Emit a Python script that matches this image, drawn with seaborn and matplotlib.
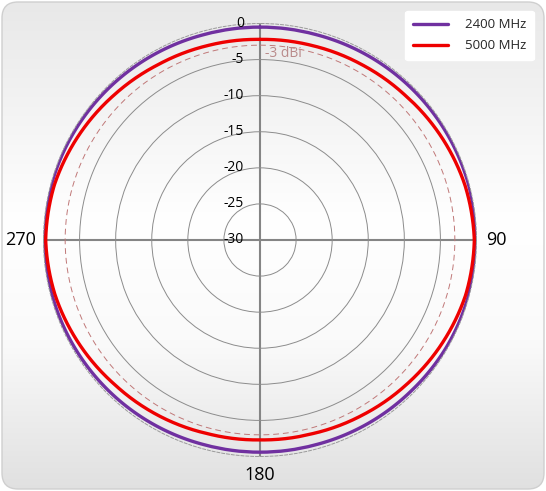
import numpy as np
import pandas as pd
import matplotlib
matplotlib.use("Agg")
import matplotlib.pyplot as plt
import matplotlib.transforms as mtransforms
from matplotlib.patches import FancyBboxPatch
import seaborn as sns

# measured gain (dBi) every 15 degrees, clockwise from 0
angles_deg = [0, 15, 30, 45, 60, 75, 90, 105, 120, 135, 150, 165,
              180, 195, 210, 225, 240, 255, 270, 285, 300, 315, 330, 345]
gain_2400 = [-0.5, -0.5, -0.4, -0.3, -0.2, -0.1, -0.1, -0.1, -0.2, -0.4, -0.5, -0.6,
             -0.6, -0.6, -0.5, -0.4, -0.3, -0.2, -0.1, -0.1, -0.2, -0.3, -0.4, -0.5]
gain_5000 = [-2.2, -2.1, -1.9, -1.6, -1.1, -0.6, -0.3, -0.5, -1.0, -1.5, -1.9, -2.2,
             -2.3, -2.2, -1.9, -1.6, -1.1, -0.6, -0.3, -0.5, -1.0, -1.5, -1.9, -2.1]
series_names = ["2400 MHz", "5000 MHz"]
series_colors = ["#7030a0", "#ee0000"]

ring_levels = [-25, -20, -15, -10, -5]
ring_labels = ["0", "-5", "-10", "-15", "-20", "-25", "-30"]
ring_label_values = [0, -5, -10, -15, -20, -25, -30]
ref_level = -3
axis_angles = [0, 90, 180, 270]

sns.set_theme(style="white")
plt.rcParams["font.family"] = ["Open Sans", "DejaVu Sans"]

fig = plt.figure(figsize=(5.46, 4.91), dpi=100)

# background panel with rounded corners and soft vertical gradient
bg = fig.add_axes([0, 0, 1, 1])
bg.set_xlim(0, 546)
bg.set_ylim(0, 491)
bg.axis("off")
shade = np.interp(np.linspace(0, 1, 256), [0, 0.3, 0.55, 1.0], [0.88, 0.98, 1.0, 0.91])
grad = np.dstack([shade, shade, shade]).reshape(256, 1, 3)
panel = FancyBboxPatch((2, 2), 542, 487, boxstyle="round,pad=0,rounding_size=16",
                       facecolor="none", edgecolor="#cfcfcf", lw=1.0)
bg.add_patch(panel)
im = bg.imshow(grad, extent=[2, 544, 2, 489], aspect="auto", origin="lower")
im.set_clip_path(panel)

cx, cy, R = 260, 240, 216.5
W, H = 546, 491
ax = fig.add_axes([(cx - R) / W, (H - cy - R) / H, 2 * R / W, 2 * R / H], projection="polar")
ax.set_facecolor("none")
ax.set_theta_zero_location("N")
ax.set_theta_direction(-1)
ax.set_rlim(-30, 0)

ax.set_xticks(np.radians(axis_angles))
ax.set_xticklabels([])
ax.xaxis.grid(True, color="#858585", lw=1.5)
ax.set_yticks(ring_levels)
ax.set_yticklabels([])
ax.yaxis.grid(True, color="#8c8c8c", lw=0.7)
ax.spines["polar"].set_color("#9a9a9a")
ax.spines["polar"].set_linestyle((0, (3, 2)))
ax.spines["polar"].set_linewidth(0.7)

theta_circle = np.linspace(0, 2 * np.pi, 361)
ax.plot(theta_circle, np.full_like(theta_circle, ref_level), color="#c07878",
        lw=0.7, ls=(0, (6, 4)))

theta = np.radians(angles_deg + [360])
for name, gains, col in zip(series_names, [gain_2400, gain_5000], series_colors):
    df = pd.DataFrame({"theta": theta, "gain": gains + gains[:1]})
    sns.lineplot(data=df, x="theta", y="gain", ax=ax, sort=False, estimator=None,
                 color=col, lw=2.4, label=name, legend=False)
    # follow the circle between measured points
    ax.lines[-1].get_path()._interpolation_steps = 60
ax.set_xlabel("")
ax.set_ylabel("")

# radial labels along the 0 degree line
left_off = mtransforms.offset_copy(ax.transData, fig=fig, x=-16, y=0, units="dots")
for v, lab in zip(ring_label_values, ring_labels):
    ax.text(0, v, lab, transform=left_off, ha="right", va="center", fontsize=10, color="black")
ref_off = mtransforms.offset_copy(ax.transData, fig=fig, x=5, y=-8, units="dots")
ax.text(0, ref_level, "-3 dBi", transform=ref_off, ha="left", va="center",
        fontsize=10, color="#b98a8a")

# angle labels
for ang, dx, dy, ha, va in [(90, 10, 0, "left", "center"), (270, -8, 0, "right", "center"),
                            (180, 0, -10, "center", "top")]:
    off = mtransforms.offset_copy(ax.transData, fig=fig, x=dx, y=dy, units="dots")
    ax.text(np.radians(ang), 0, str(ang), transform=off, ha=ha, va=va, fontsize=13,
            color="black")

handles, labels = ax.get_legend_handles_labels()
leg = fig.legend(handles, labels, loc="upper right", bbox_to_anchor=(0.99, 0.992),
                 fontsize=9.5, frameon=True, fancybox=True, handlelength=2.6,
                 handletextpad=1.3, borderpad=0.6, labelspacing=0.6)
leg.get_frame().set_facecolor("white")
leg.get_frame().set_edgecolor("white")
leg.get_frame().set_alpha(1)

fig.savefig("out.png", dpi=100)
